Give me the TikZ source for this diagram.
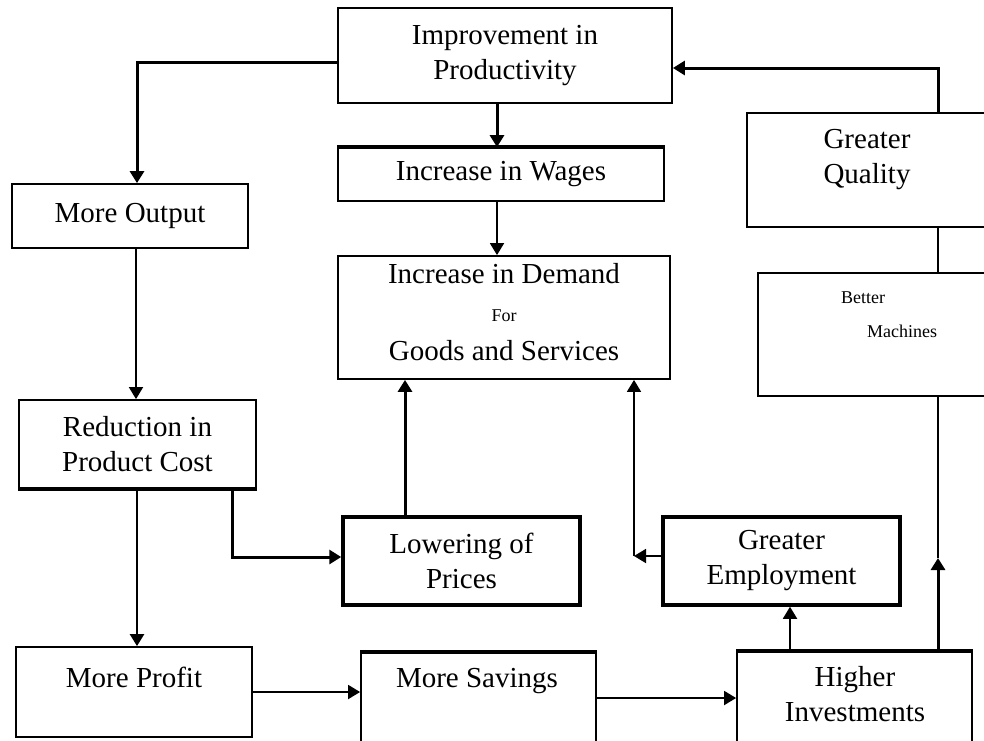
\documentclass[tikz,border=0pt]{standalone}
\usepackage{fontspec}
\setmainfont{Liberation Serif}
\usetikzlibrary{arrows.meta}
\definecolor{inkcolor}{HTML}{000000}
\tikzset{
  flowbox/.style={draw=inkcolor, line width=1.8pt, inner sep=0pt, align=center,
    font=\fontsize{29}{35}\selectfont},
  boldbox/.style={flowbox, line width=3.5pt},
  flowtext/.style={font=\fontsize{29}{35}\selectfont, align=center, inner sep=0pt},
  smalltext/.style={font=\fontsize{18}{22}\selectfont, inner sep=0pt},
  thinline/.style={draw=inkcolor, line width=1.8pt},
  edgeline/.style={draw=inkcolor, line width=3.5pt},
  thinarrow/.style={thinline, -{Triangle[length=12pt,width=14pt]}},
  thickarrow/.style={thinarrow, line width=3pt},
}

\begin{document}
\begin{tikzpicture}[x=1pt,y=-1pt]
  \useasboundingbox (0,0) rectangle (984,740);
  \clip (0,0) rectangle (984,740);

  % Top row
  \node[flowbox, minimum width=334pt, minimum height=95pt] (prod) at (505,55.5) {Improvement in\\Productivity};
  \node[flowbox, minimum width=326pt, minimum height=53pt] (wages) at (501,174.5) {Increase in Wages};
  \node[flowbox, minimum width=236pt, minimum height=64pt] (output) at (130,216) {More Output};
  \draw[edgeline] (wages.north west) -- (wages.north east);

  % Demand box
  \node[flowbox, minimum width=332pt, minimum height=123pt] (demand) at (504,317.5) {};
  \node[flowtext, anchor=base] (demandhead) at (504,283) {Increase in Demand};
  \node[smalltext, anchor=base] (demandfor) at (504,321) {For};
  \node[flowtext, anchor=base] (demandtail) at (504,360) {Goods and Services};

  % Right column
  \node[flowbox, minimum width=253pt, minimum height=114pt] (quality) at (873.5,170) {};
  \node[flowtext] (qualitytext) at (867,160) {Greater\\Quality};
  \node[flowbox, minimum width=242pt, minimum height=123pt] (machines) at (879,334.5) {};
  \node[smalltext, anchor=base west] (betterword) at (841,303) {Better};
  \node[smalltext, anchor=base west] (machineword) at (867,337) {Machines};

  % Middle row
  \node[flowbox, minimum width=237pt, minimum height=88pt] (reduce) at (137.5,444) {Reduction in\\Product Cost};
  \draw[edgeline] (reduce.south west) -- (reduce.south east);
  \node[boldbox, minimum width=237pt, minimum height=88pt] (lowering) at (461.5,561) {Lowering of\\Prices};
  \node[boldbox, minimum width=237pt, minimum height=88pt] (employ) at (781.5,561) {Greater\\Employment};

  % Bottom row
  \node[flowbox, minimum width=236pt, minimum height=90pt] (profit) at (134,692) {};
  \node[flowtext, anchor=base] (profittext) at (134,687) {More Profit};
  \node[flowbox, minimum width=235pt, minimum height=147pt] (savings) at (478.5,726.5) {};
  \node[flowtext, anchor=base] (savingstext) at (477,687) {More Savings};
  \draw[edgeline] (savings.north west) -- (savings.north east);
  \node[flowbox, minimum width=235pt, minimum height=148pt] (invest) at (854.5,726) {};
  \node[flowtext] (investtext) at (855,694) {Higher\\Investments};
  \draw[edgeline] (invest.north west) -- (invest.north east);

  % Connectors
  \coordinate (outturn) at (137,62);
  \draw[thickarrow] (prod.west |- outturn) -- (outturn) -- (outturn |- output.north);
  \coordinate (wagesline) at (497,0);
  \draw[thickarrow] (prod.south -| wagesline) -- (wages.north -| wagesline);
  \draw[thinarrow] (wages.south -| wagesline) -- (demand.north -| wagesline);

  \coordinate (qualturn) at (938,68);
  \draw[thickarrow] (quality.north -| qualturn) -- (qualturn) -- (prod.east |- qualturn);
  \draw[thinline] (machines.north -| qualturn) -- (quality.south -| qualturn);
  \coordinate (machtip) at (938,558);
  \draw[thickarrow] (invest.north -| machtip) -- (machtip);
  \draw[thinline] (machtip) -- (machines.south -| machtip);

  \coordinate (costline) at (136,0);
  \draw[thinarrow] (output.south -| costline) -- (reduce.north -| costline);
  \coordinate (profitline) at (137,0);
  \draw[thickarrow, line width=2.4pt] (reduce.south -| profitline) -- (profit.north -| profitline);
  \coordinate (priceturn) at (232,557);
  \draw[thickarrow] (reduce.south -| priceturn) -- (priceturn) -- (lowering.west |- priceturn);
  \coordinate (demandup) at (405,0);
  \draw[thickarrow] (lowering.north -| demandup) -- (demand.south -| demandup);
  \coordinate (empturn) at (634,556);
  \draw[thinarrow] (employ.west |- empturn) -- (empturn);
  \draw[thinarrow] (empturn) -- (demand.south -| empturn);

  \coordinate (saverow) at (300,692);
  \draw[thinarrow] (profit.east |- saverow) -- (savings.west |- saverow);
  \coordinate (investrow) at (660,698);
  \draw[thinarrow] (savings.east |- investrow) -- (invest.west |- investrow);
  \coordinate (employline) at (790,0);
  \draw[thinarrow] (invest.north -| employline) -- (employ.south -| employline);
\end{tikzpicture}
\end{document}
